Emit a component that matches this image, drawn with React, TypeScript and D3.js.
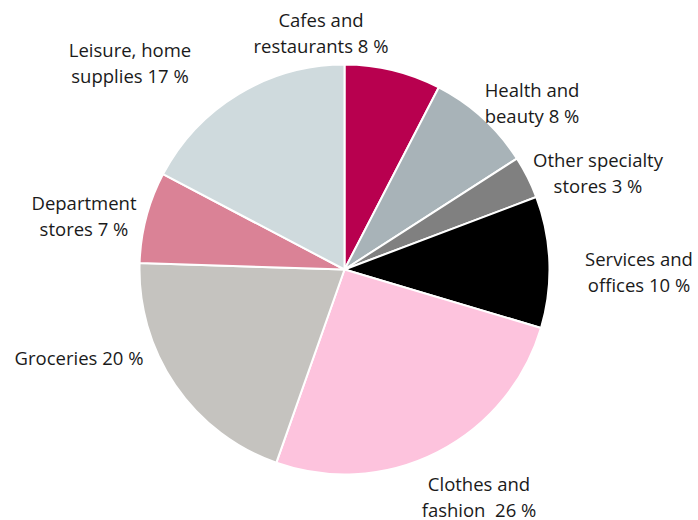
import * as d3 from 'd3';

const categories = [
  'Cafes and restaurants',
  'Health and beauty',
  'Other specialty stores',
  'Services and offices',
  'Clothes and fashion',
  'Groceries',
  'Department stores',
  'Leisure, home supplies',
];
const shares = [7.6, 8.3, 3.35, 10.35, 25.8, 20.1, 7.2, 17.3];
const labelLines = [
  ['Cafes and', 'restaurants 8 %'],
  ['Health and', 'beauty 8 %'],
  ['Other specialty', 'stores 3 %'],
  ['Services and', 'offices 10 %'],
  ['Clothes and', 'fashion  26 %'],
  ['Groceries 20 %'],
  ['Department', 'stores 7 %'],
  ['Leisure, home', 'supplies 17 %'],
];
const colors = ['#b8004f', '#a8b3b8', '#808080', '#000000', '#fdc3dd', '#c5c3bf', '#da8296', '#cfdadd'];

// where each label block sits (centre x, first baseline)
const labelPos: [number, number][] = [
  [321, 27], [532, 97], [598, 167], [639, 266],
  [479, 491], [79, 365], [84, 210], [130, 57],
];

export default function App() {
  const width = 698;
  const height = 520;
  const cx = 344.5;
  const cy = 269.5;
  const radius = 205;

  const pie = d3.pie<number>().sort(null).value(d => d);
  const arc = d3.arc<d3.PieArcDatum<number>>().innerRadius(0).outerRadius(radius);
  const slices = pie(shares);

  return (
    <div style={{ position: 'absolute', left: 0, top: 0 }}>
      <svg width={width} height={height} style={{ display: 'block', background: '#fff' }}>
        <g transform={`translate(${cx},${cy})`}>
          {slices.map((s, i) => (
            <path key={categories[i]} d={arc(s) || ''} fill={colors[i]} stroke="#fff" strokeWidth={2} strokeLinejoin="round" />
          ))}
        </g>
        {labelLines.map((lines, i) => (
          <text
            key={categories[i]}
            x={labelPos[i][0]}
            y={labelPos[i][1]}
            textAnchor="middle"
            fontFamily="'Open Sans', sans-serif"
            fontSize={18.5}
            fill="#1a1a1a"
            style={{ whiteSpace: 'pre' }}
          >
            {lines.map((l, j) => (
              <tspan key={j} x={labelPos[i][0]} dy={j === 0 ? 0 : 26}>{l}</tspan>
            ))}
          </text>
        ))}
      </svg>
    </div>
  );
}
